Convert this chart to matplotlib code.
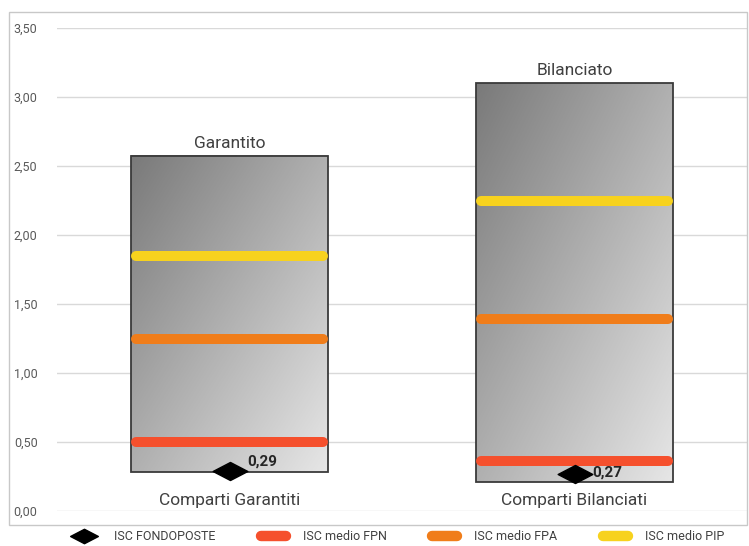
import numpy as np
import matplotlib
matplotlib.use("Agg")
import matplotlib.pyplot as plt
from matplotlib.path import Path
from matplotlib.lines import Line2D
from matplotlib.patches import Rectangle
from matplotlib.ticker import FuncFormatter, MultipleLocator

plt.rcParams['font.family'] = ['Roboto', 'DejaVu Sans']

categories = ["Comparti Garantiti", "Comparti Bilanciati"]
box_titles = ["Garantito", "Bilanciato"]
box_low = [0.28, 0.21]
box_high = [2.57, 3.10]
isc_fondoposte = [0.29, 0.27]
isc_fpn = [0.50, 0.36]
isc_fpa = [1.25, 1.39]
isc_pip = [1.85, 2.25]
fondoposte_labels = ["0,29", "0,27"]

fig = plt.figure(figsize=(7.49, 5.46), dpi=100)
W, H = 749, 546
ax = fig.add_axes([57 / W, 35 / H, (747 - 57) / W, (518 - 35) / H])

# outer chart border
fig.patches.append(Rectangle((9 / W, (H - 525) / H), (747 - 9) / W, (525 - 12) / H,
                             transform=fig.transFigure, fill=False,
                             edgecolor='#c8c8c8', lw=1.0, zorder=0))

ax.set_xlim(-0.5, 1.5)
ax.set_ylim(0, 3.5)
ax.yaxis.set_major_locator(MultipleLocator(0.5))
ax.yaxis.set_major_formatter(FuncFormatter(lambda v, p: f"{v:.2f}".replace('.', ',')))
ax.grid(axis='y', color='#d9d9d9', lw=1.0)
ax.set_axisbelow(True)
for s in ax.spines.values():
    s.set_visible(False)
ax.tick_params(axis='y', length=0, labelsize=9, labelcolor='#595959', pad=14)
ax.set_xticks([])

bw = 0.571
grad_cmap = matplotlib.colors.LinearSegmentedColormap.from_list('g', ['#7a7a7a', '#e6e6e6'])
nx, ny = 100, 100
u = np.linspace(0, 1, nx)[None, :]
v = np.linspace(0, 1, ny)[:, None]  # row 0 = top with origin upper
grad = (u + v) / 2

lw_pts = 7.2
cap = 5 / 345  # half line width in data units (approx)
for i, cat in enumerate(categories):
    x0, x1 = i - bw / 2, i + bw / 2
    lo, hi = box_low[i], box_high[i]
    ax.imshow(grad, cmap=grad_cmap, extent=[x0, x1, lo, hi], origin='upper',
              aspect='auto', zorder=2, interpolation='bilinear')
    ax.add_patch(Rectangle((x0, lo), bw, hi - lo, fill=False, edgecolor='#3a3a3a', lw=1.3, zorder=3))
    for vals, col in [(isc_fpn, '#f5502d'), (isc_fpa, '#f07d1a'), (isc_pip, '#f7d21e')]:
        ax.plot([x0 + cap, x1 - cap], [vals[i], vals[i]], color=col, lw=lw_pts,
                solid_capstyle='round', zorder=4)
    ax.text(i, hi + 0.04, box_titles[i], ha='center', va='bottom', fontsize=12.5, color='#404040')
    ax.text(i, 0.075, cat, ha='center', va='center', fontsize=12.5, color='#404040')

diamond = Path([(-1, 0), (0, 0.52), (1, 0), (0, -0.52), (-1, 0)],
               [Path.MOVETO, Path.LINETO, Path.LINETO, Path.LINETO, Path.CLOSEPOLY])
xs = np.arange(len(categories))
ax.plot(xs, isc_fondoposte, linestyle='none', marker=diamond, markersize=25,
        color='black', zorder=5, clip_on=False)
label_dy = [7, 1]
for i, lab in enumerate(fondoposte_labels):
    ax.annotate(lab, (xs[i], isc_fondoposte[i]), xytext=(13, label_dy[i]), textcoords='offset points',
                fontsize=11, fontweight='bold', color='#262626', va='center', ha='left', zorder=6)

handles = [
    Line2D([], [], linestyle='none', marker=diamond, markersize=20, color='black'),
    Line2D([], [], color='#f5502d', lw=7.5, solid_capstyle='round'),
    Line2D([], [], color='#f07d1a', lw=7.5, solid_capstyle='round'),
    Line2D([], [], color='#f7d21e', lw=7.5, solid_capstyle='round'),
]
labels = ["ISC FONDOPOSTE", "ISC medio FPN", "ISC medio FPA", "ISC medio PIP"]
fig.legend(handles, labels, loc='center', bbox_to_anchor=(398 / W, (H - 537) / H), ncol=4,
           frameon=False, fontsize=9, handlelength=2.0, columnspacing=3.6, handletextpad=1.4,
           labelcolor='#404040')

fig.savefig("out.png", dpi=100)
